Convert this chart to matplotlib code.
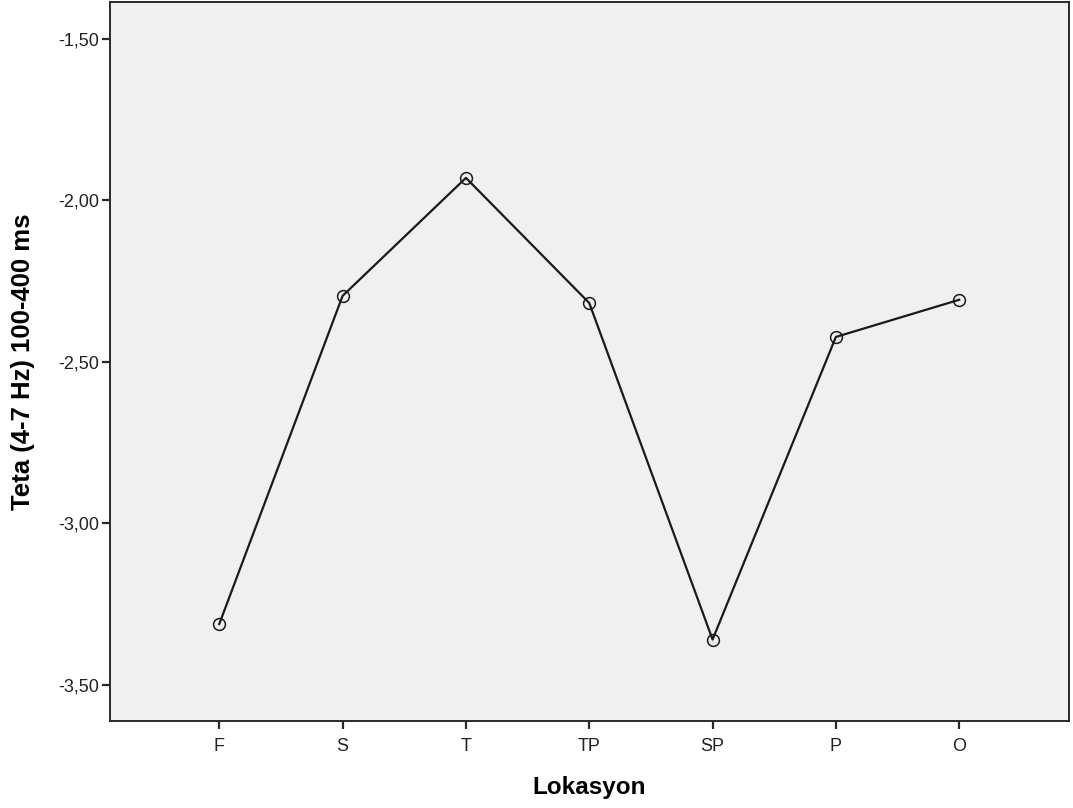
import matplotlib
matplotlib.use("Agg")
import matplotlib.pyplot as plt
from matplotlib.ticker import FixedLocator, FuncFormatter

plt.rcParams['font.family'] = ['Liberation Sans', 'DejaVu Sans']

# Mean theta power per electrode location
locations = ["F", "S", "T", "TP", "SP", "P", "O"]
theta_means = [-3.311, -2.296, -1.931, -2.318, -3.359, -2.423, -2.308]
y_ticks = [-3.5, -3.0, -2.5, -2.0, -1.5]

fig = plt.figure(figsize=(10.73, 8.08), dpi=100)
ax = fig.add_axes([110 / 1073, 1 - 721 / 808, (1069 - 110) / 1073, (721 - 2) / 808])
ax.set_facecolor("#f0f0f0")

x = list(range(len(locations)))
ax.plot(x, theta_means, color="#1a1a1a", linewidth=1.6, zorder=2)
ax.plot(x, theta_means, linestyle="none", marker="o", markersize=8.5,
        markerfacecolor="none", markeredgecolor="#1a1a1a", markeredgewidth=1.1, zorder=3)

ax.set_xlim(-0.886, 6.89)
ax.set_ylim(-3.611, -1.387)
ax.set_xticks(x)
ax.set_xticklabels(locations)
ax.yaxis.set_major_locator(FixedLocator(y_ticks))
ax.yaxis.set_major_formatter(FuncFormatter(lambda v, p: f"{v:.2f}".replace(".", ",")))

ax.tick_params(axis="both", direction="out", length=6, width=1.6, color="#2a2a2a",
               labelsize=13, labelcolor="#222222")
ax.tick_params(axis="x", pad=6)
ax.tick_params(axis="y", pad=2)

for side in ax.spines.values():
    side.set_color("#2a2a2a")
    side.set_linewidth(1.4)

ax.set_xlabel("Lokasyon", fontsize=17.5, fontweight="bold")
ax.set_ylabel("Teta (4-7 Hz) 100-400 ms", fontsize=18.5, fontweight="bold")
ax.xaxis.set_label_coords(0.5, -0.0765)
ax.yaxis.set_label_coords(-0.078, 0.5)

fig.savefig("out.png", dpi=100)
